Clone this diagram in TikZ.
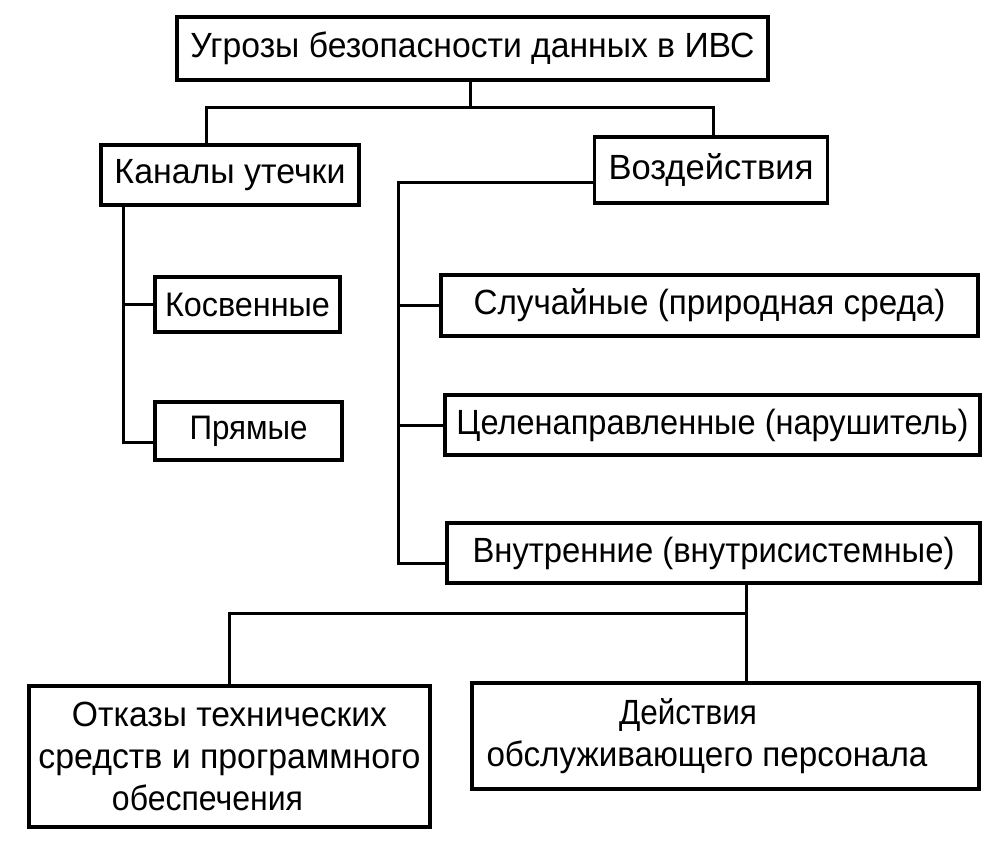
\documentclass[tikz,border=0pt]{standalone}
\usepackage{fontspec}
\setmainfont{Liberation Sans}
\newcommand\fw[2]{\resizebox{#1pt}{\height}{#2}}
\begin{document}
\begin{tikzpicture}[x=1pt,y=-1pt,
  box/.style={draw,line width=3.2pt,inner sep=0pt,anchor=center,font=\fontsize{35}{42}\selectfont,align=center},
  conn/.style={line width=3pt}]
\useasboundingbox (0,0) rectangle (1001,851);
\node[box,minimum width=591pt,minimum height=63pt] (top) at (472.5,48.5) {\fw{564}{Угрозы безопасности данных в ИВС}};
\node[box,minimum width=258pt,minimum height=60pt] (kan) at (230,175) {\fw{231}{Каналы утечки}};
\node[box,minimum width=233pt,minimum height=66pt] (voz) at (711,170) {\fw{205}{Воздействия}};
\node[box,minimum width=185pt,minimum height=55pt,font=\fontsize{34}{40}\selectfont] (kos) at (247.5,304.5) {\fw{165}{Косвенные}};
\node[box,minimum width=187pt,minimum height=58pt,font=\fontsize{34}{40}\selectfont] (pry) at (248.5,431) {\fw{118}{Прямые}};
\node[box,minimum width=537pt,minimum height=61pt] (slu) at (709.5,305.5) {\fw{472}{Случайные (природная среда)}};
\node[box,minimum width=535pt,minimum height=60pt] (cel) at (712.5,425) {\fw{512}{Целенаправленные (нарушитель)}};
\node[box,minimum width=533pt,minimum height=60pt] (vnu) at (713.5,553) {\fw{482}{Внутренние (внутрисистемные)}};
\node[box,minimum width=401pt,minimum height=141pt] (otk) at (229.5,756.5) {\fw{315}{Отказы технических}\\\fw{382}{средств и программного}\\\fw{191}{обеспечения}\hspace*{44pt}};
\node[box,minimum width=507pt,minimum height=106pt] (dej) at (725.5,736) {\fw{138}{Действия}\hspace*{75pt}\\\fw{441}{обслуживающего персонала}\hspace*{37pt}};
% junctions
\coordinate (j1) at (470,107);
\coordinate (j2) at (398,182);
\coordinate (j3) at (398,563);
\coordinate (j4) at (123,442);
\coordinate (j5) at (746,613);
\draw[conn] (top.south -| j1) -- (j1);
\draw[conn] ([xshift=-24pt]kan.north) |- (j1) -| ([xshift=2pt]voz.north);
\draw[conn] (voz.west |- j2) -- (j2) -- (j3) -- (vnu.west |- j3);
\draw[conn] (j2 |- slu.west) -- (slu.west);
\draw[conn] (j2 |- cel.west) -- (cel.west);
\draw[conn] (kan.south -| j4) -- (j4) -- (pry.west |- j4);
\draw[conn] (j4 |- kos.west) -- (kos.west);
\draw[conn] (vnu.south -| j5) -- (dej.north -| j5);
\draw[conn] (otk.north) |- (j5);
\end{tikzpicture}
\end{document}
